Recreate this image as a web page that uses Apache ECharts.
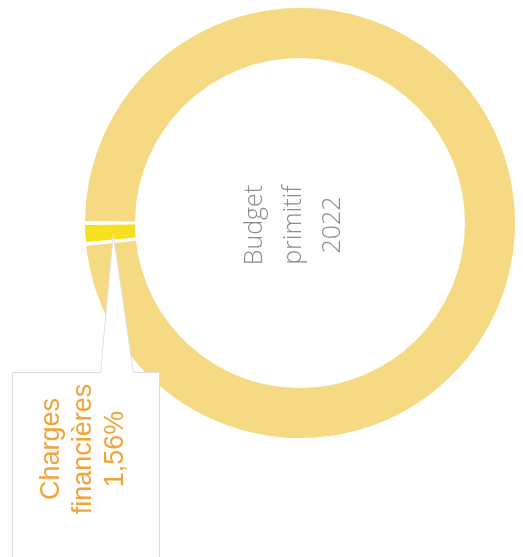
<!DOCTYPE html>
<html>
<head>
<meta charset="utf-8">
<script src="https://cdn.jsdelivr.net/npm/echarts@6/dist/echarts.min.js"></script>
<style>
html,body{margin:0;padding:0;background:#fff;}
#chart{width:523px;height:557px;}
</style>
</head>
<body>
<div id="chart"></div>
<script>
// Data
var categories = ['Charges financières', 'Autres dépenses'];
var shares = [1.56, 98.44];
var centerLines = ['Budget', 'primitif', '2022'];
var labelLines = ['Charges', 'financières', '1,56%'];

var CX = 300, CY = 223, R_IN = 165, R_OUT = 215;
var START = 180;

var chart = echarts.init(document.getElementById('chart'), null, {renderer: 'canvas'});

function apexPoint() {
  var total = shares.reduce(function (a, b) { return a + b; }, 0);
  var mid = (START + shares[0] / total * 360 / 2) * Math.PI / 180;
  var r = (R_IN + R_OUT) / 2 - 3;
  return [CX + r * Math.cos(mid), CY - r * Math.sin(mid)];
}

var a = apexPoint();
var BOX = {x: 12, y: 372, w: 147, h: 200};
var TAIL_L = 100, TAIL_R = 133;

var option = {
  backgroundColor: '#ffffff',
  animation: false,
  series: [{
    type: 'pie',
    center: [CX, CY],
    radius: [R_IN, R_OUT],
    startAngle: START,
    clockwise: false,
    padAngle: 1.1,
    silent: true,
    label: {show: false},
    labelLine: {show: false},
    data: categories.map(function (c, i) {
      return {
        name: c,
        value: shares[i],
        itemStyle: {color: i === 0 ? '#F7E01F' : '#F6D983'}
      };
    })
  }],
  graphic: [
    {
      type: 'rect',
      z: 10,
      shape: {x: BOX.x + 0.5, y: BOX.y + 0.5, width: BOX.w, height: BOX.h},
      style: {fill: '#ffffff', stroke: '#dcdcdc', lineWidth: 1}
    },
    {
      type: 'polygon',
      z: 11,
      shape: {points: [[a[0], a[1] + 2], [TAIL_L + 0.5, BOX.y + 2], [TAIL_R + 0.5, BOX.y + 2]]},
      style: {fill: '#ffffff'}
    },
    {
      type: 'polyline',
      z: 12,
      shape: {points: [[TAIL_L + 0.5, BOX.y + 1], [a[0], a[1] + 2], [TAIL_R + 0.5, BOX.y + 1]]},
      style: {stroke: '#e2e2e2', lineWidth: 1, fill: null}
    },
    {
      type: 'text',
      z: 13,
      x: 84,
      y: 449,
      rotation: Math.PI / 2,
      style: {
        text: labelLines.join('\n'),
        fill: '#F2A33A',
        font: '27px "Liberation Sans"',
        lineHeight: 32,
        align: 'center',
        verticalAlign: 'middle'
      }
    },
    {
      type: 'text',
      z: 13,
      x: 294,
      y: 225,
      rotation: Math.PI / 2,
      style: {
        text: centerLines.join('\n'),
        fill: '#8c8c8c',
        font: '300 25px "Open Sans"',
        lineHeight: 39,
        align: 'center',
        verticalAlign: 'middle'
      }
    }
  ]
};
chart.setOption(option);
</script>
</body>
</html>
